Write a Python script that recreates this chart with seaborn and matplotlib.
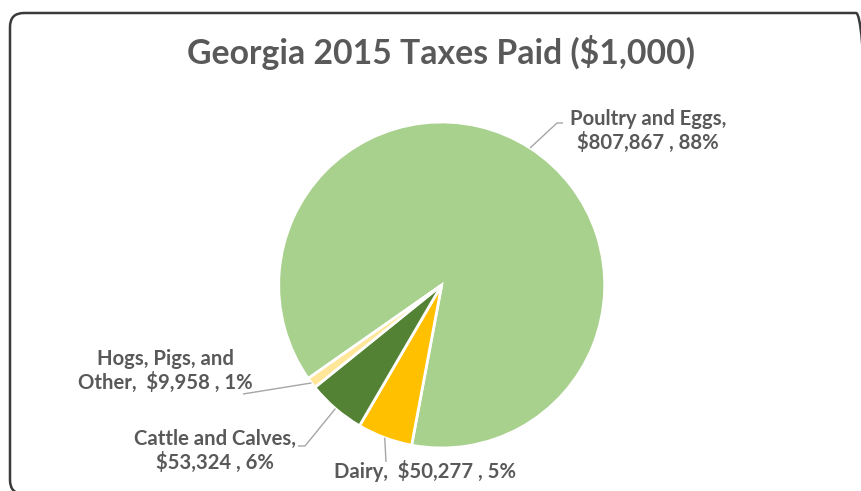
import numpy as np
import matplotlib.pyplot as plt
import seaborn as sns
from matplotlib.patches import FancyBboxPatch

sns.set_style("white")
plt.rcParams['font.family'] = ['Lato', 'DejaVu Sans']

# Data (values in $1,000)
categories = ["Poultry and Eggs", "Dairy", "Cattle and Calves", "Hogs, Pigs, and Other"]
taxes_paid = [807867, 50277, 53324, 9958]
colors = ["#A9D18E", "#FFC000", "#548235", "#FFE699"]
label_texts = [
    "Poultry and Eggs,\n$807,867 , 88%",
    "Dairy,  $50,277 , 5%",
    "Cattle and Calves,\n$53,324 , 6%",
    "Hogs, Pigs, and\nOther,  $9,958 , 1%",
]

W, H = 862, 491
TEXT = "#595959"

fig = plt.figure(figsize=(W / 100, H / 100), dpi=100)
ax = fig.add_axes([0, 0, 1, 1])

def px(x, y):
    # pixel coords (y down) -> axes data coords (y up)
    return x, H - y

cx, cy = px(441.7, 285)
radius = 163

wedges, _ = ax.pie(taxes_paid, colors=colors, startangle=215, counterclock=False,
                   center=(cx, cy), radius=radius,
                   wedgeprops=dict(edgecolor="white", linewidth=2))

# label layout: text centre, leader path (from slice edge) in pixel coords
label_pos = [(648, 131), (425, 471), (215, 451), (165, 371)]
leader_path = [
    [(557, 123), (563, 123)],
    [(386, 462)],
    [(305, 446), (298, 446)],
    [(243, 394)],
]

for w, txt, pos, path in zip(wedges, label_texts, label_pos, leader_path):
    mid = np.deg2rad((w.theta1 + w.theta2) / 2)
    ax_x = cx + radius * np.cos(mid)
    ax_y = cy + radius * np.sin(mid)
    xs = [ax_x] + [p[0] for p in path]
    ys = [ax_y] + [H - p[1] for p in path]
    ax.plot(xs, ys, color="#A6A6A6", lw=1.0, solid_capstyle="butt")
    ax.text(*px(*pos), txt, ha="center", va="center", fontsize=14.6,
            fontweight="bold", color=TEXT, linespacing=1.2)

ax.text(*px(441, 52), "Georgia 2015 Taxes Paid ($1,000)", ha="center", va="center",
        fontsize=24.3, fontweight="bold", color=TEXT)

frame = FancyBboxPatch((10, H - 494), 860, 494 - 13,
                       boxstyle="round,pad=0,rounding_size=14",
                       fc="none", ec="#3A3A3A", lw=1.8, clip_on=False)
ax.add_patch(frame)

ax.set_xlim(0, W)
ax.set_ylim(0, H)
ax.set_aspect("equal")
ax.axis("off")

fig.savefig("out.png", dpi=100)
